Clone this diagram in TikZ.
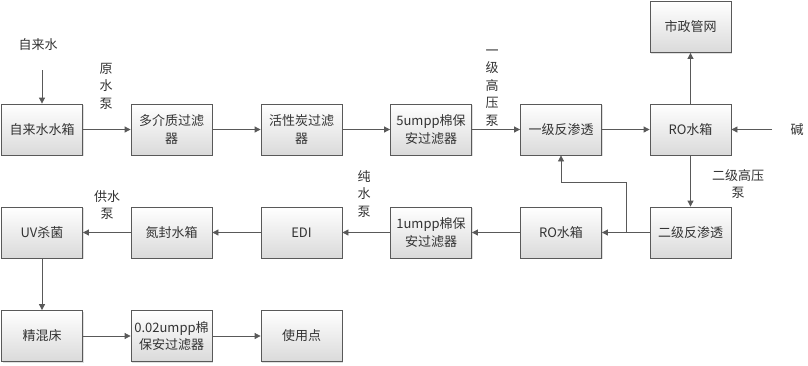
\documentclass[tikz,border=0pt]{standalone}
\usepackage{fontspec}
\setmainfont{Noto Sans CJK SC}
\usetikzlibrary{arrows.meta,shadows}
\definecolor{linegray}{RGB}{89,89,89}
\definecolor{boxgray}{RGB}{218,218,218}
\begin{document}
\begin{tikzpicture}
  [x=1pt,y=-1pt,
   every node/.style={font=\fontsize{13}{17.5}\selectfont,text=black!80},
   box/.style={draw=linegray,thick,top color=white,bottom color=boxgray,
     minimum width=81pt,minimum height=51pt,align=center,inner sep=2pt,
     drop shadow={opacity=0.25,shadow xshift=1.2pt,shadow yshift=-1.2pt}},
   lbl/.style={align=center,inner sep=0pt},
   arr/.style={draw=linegray,thick,-{Triangle[length=6pt,width=6pt]}}]
  \useasboundingbox (0,0) rectangle (808,365);

  % first row
  \node[box] (n1) at (42,129.5)    {自来水水箱};
  \node[box] (n2) at (171.5,129.5) {多介质过滤\\器};
  \node[box] (n3) at (301.5,129.5) {活性炭过滤\\器};
  \node[box] (n4) at (431,129.5)   {5umpp棉保\\安过滤器};
  \node[box] (n5) at (561,129.5)   {一级反渗透};
  \node[box] (n6) at (690.5,129.5) {RO水箱};
  \node[box] (n7) at (690.5,27)    {市政管网};

  % second row
  \node[box] (n8)  at (690.5,232.5) {二级反渗透};
  \node[box] (n9)  at (561,232.5)   {RO水箱};
  \node[box] (n10) at (431,232.5)   {1umpp棉保\\安过滤器};
  \node[box] (n11) at (301.5,232.5) {EDI};
  \node[box] (n12) at (171.5,232.5) {氮封水箱};
  \node[box] (n13) at (42,232.5)    {UV杀菌};

  % third row
  \node[box] (n14) at (42,336)    {精混床};
  \node[box] (n15) at (171.5,336) {0.02umpp棉\\保安过滤器};
  \node[box] (n16) at (301.5,336) {使用点};

  % labels
  \node[lbl] (l1) at (38,45)   {自来水};
  \node[lbl] (l2) at (106,86)  {原\\水\\泵};
  \node[lbl] (l3) at (492,88)  {一\\级\\高\\压\\泵};
  \node[lbl] (l4) at (797,130) {碱};
  \node[lbl] (l5) at (738,184) {二级高压\\泵};
  \node[lbl] (l6) at (364,194) {纯\\水\\泵};
  \node[lbl] (l7) at (107,205) {供水\\泵};

  \coordinate (c1) at (42,70);
  \coordinate (c2) at (772,129.5);
  \coordinate (c3) at (626,232.5);

  \foreach \from/\to in {c1/n1, n1/n2, n2/n3, n3/n4, n4/n5, n5/n6, n6/n7, c2/n6,
    n6/n8, n8/n9, n9/n10, n10/n11, n11/n12, n12/n13, n13/n14, n14/n15, n15/n16}
  \draw[arr] (\from) -- (\to);

  \draw[arr] (c3) -- ++(0,-50.5) -| (n5);
\end{tikzpicture}
\end{document}
